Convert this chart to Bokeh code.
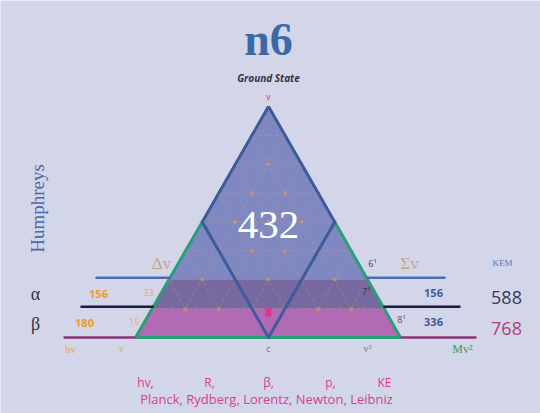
import math
from bokeh.plotting import figure
from bokeh.models import Range1d
from bokeh.core.properties import value
from bokeh.embed import file_html
from bokeh.resources import INLINE

# ---------------- data ----------------
title = "n6"
subtitle = "Ground State"
core_value = 432
levels = ["α", "β"]
left_values = [156, 180]
left_small = [33, 15]
right_values = [156, 336]
kem_values = [588, 768]
right_marks = ["6¹", "7¹", "8¹"]
bottom_symbols = ["hv,", "R,", "β,", "p,", "KE"]
bottom_names = "Planck, Rydberg, Lorentz, Newton, Leibniz"
n_rows = 8  # lattice subdivisions

# ---------------- geometry (picture pixel coordinates) ----------------
BG = "#d3d5e8"
p = figure(width=540, height=413, x_range=Range1d(0, 540), y_range=Range1d(413, 0),
           output_backend="svg", toolbar_location=None, min_border=0,
           background_fill_color=BG, border_fill_color=BG)
p.axis.visible = False
p.grid.visible = False
p.outline_line_color = None

apex = (268, 106)
base_y = 337
base_l, base_r = 135, 400
row_h = (base_y - apex[1]) / n_rows
half_w = (base_r - base_l) / 2


def edge_x(y, side):
    t = (y - apex[1]) / (base_y - apex[1])
    return apex[0] + side * half_w * t

# triangle fill
p.patch([apex[0], base_l, base_r], [apex[1], base_y, base_y],
        fill_color="#8088c2", line_color=None)
# dark band (row 6) and pink band (row 7)
y1, y2, y3 = apex[1] + 6 * row_h, apex[1] + 7 * row_h, base_y
p.patch([edge_x(y1, -1), edge_x(y1, 1), edge_x(y2, 1), edge_x(y2, -1)],
        [y1, y1, y2, y2], fill_color="#77689f", line_color=None)
p.patch([edge_x(y2, -1), edge_x(y2, 1), edge_x(y3, 1), edge_x(y3, -1)],
        [y2, y2, y3, y3], fill_color="#b06bb4", line_color=None)

# orange lattice
lx, ly = [], []
for k in range(1, n_rows):
    y = apex[1] + k * row_h
    lx.append([edge_x(y, -1), edge_x(y, 1)]); ly.append([y, y])
for k in range(1, n_rows):
    bx = base_l + k * (2 * half_w / n_rows)
    yy = base_y - (n_rows - k) * row_h
    lx.append([bx, edge_x(yy, 1)]); ly.append([base_y, yy])
    bx2 = base_r - k * (2 * half_w / n_rows)
    lx.append([bx2, edge_x(yy, -1)]); ly.append([base_y, yy])
p.multi_line(lx, ly, line_color="#e8a050", line_alpha=0.3, line_width=1.1,
             line_dash="3 3")
dx, dy = [], []
for r in range(1, n_rows):
    y = apex[1] + r * row_h
    for j in range(r + 1):
        dx.append(edge_x(y, -1) + j * (2 * half_w / n_rows))
        dy.append(y)
p.scatter(dx, dy, size=4, fill_color="#e8a050", fill_alpha=0.45, line_color=None)

# diamond and green edges
mid_y = apex[1] + 4 * row_h
dl, dr = edge_x(mid_y, -1), edge_x(mid_y, 1)
p.line([dl, base_l, base_r, dr], [mid_y, base_y, base_y, mid_y],
       line_color="#2a9e78", line_width=3)
p.line([apex[0], dl, apex[0], dr, apex[0]], [apex[1], mid_y, base_y, mid_y, apex[1]],
       line_color="#3c5b9c", line_width=3, line_join="round")

# horizontal level lines
ya, yb = apex[1] + 6 * row_h - 2, apex[1] + 7 * row_h - 2
p.segment(x0=[95, edge_x(ya, 1)], y0=[ya, ya], x1=[edge_x(ya, -1), 445], y1=[ya, ya],
          line_color="#4d6cb0", line_width=2.5)
p.segment(x0=[80, edge_x(yb, 1)], y0=[yb, yb], x1=[edge_x(yb, -1), 460], y1=[yb, yb],
          line_color="#1c1c44", line_width=2.5)
p.segment(x0=[63, base_r], y0=[base_y, base_y], x1=[base_l, 476], y1=[base_y, base_y],
          line_color="#8a3478", line_width=2.5)

# magenta marker
p.rect([268], [312], width=6, height=8, fill_color="#e2308c", line_color=None)


def txt(x, y, s, size, color, font="Open Sans", style="normal", align="center", angle=0.0):
    p.text([x], [y], text=[s], text_font=value(font), text_font_size=value(size),
           text_color=color, text_font_style=style, text_align=align,
           text_baseline="middle", angle=angle)

# titles
txt(268, 39, title, "46px", "#3c68a6", font="Liberation Serif", style="bold")
txt(268, 77, subtitle, "10px", "#333344", style="bold italic")
txt(268, 96, "v", "9px", "#d8407f")
txt(268, 224, str(core_value), "41px", "#ffffff", font="Liberation Serif")
txt(268, 348, "c", "9px", "#d8407f")

# left side
txt(37, 208, "Humphreys", "19px", "#4a68b0", font="Liberation Serif", angle=math.pi / 2)
txt(35, 293, levels[0], "18px", "#333340", font="Liberation Serif")
txt(35, 323, levels[1], "18px", "#333340", font="Liberation Serif")
txt(161, 263, "Δv", "17px", "#c8a882", font="Liberation Serif")
txt(98, 293, str(left_values[0]), "11px", "#f09a28", style="bold")
txt(84, 322, str(left_values[1]), "11px", "#f09a28", style="bold")
txt(148, 292, str(left_small[0]), "9px", "#e8a868")
txt(134, 321, str(left_small[1]), "9px", "#e8a868")
txt(70, 348, "hv", "11px", "#e8a868", font="Liberation Serif")
txt(121, 348, "v", "10px", "#e8a868", font="Liberation Serif")

# right side
txt(372, 263, right_marks[0], "9px", "#444450")
txt(366, 291, right_marks[1], "9px", "#333340")
txt(401, 319, right_marks[2], "9px", "#6a4a70")
txt(409, 263, "Σv", "17px", "#c8a882", font="Liberation Serif")
txt(433, 292, str(right_values[0]), "11px", "#3d5ca0", style="bold")
txt(433, 321, str(right_values[1]), "11px", "#3d5ca0", style="bold")
txt(367, 348, "v²", "10px", "#8a6aa0", font="Liberation Serif")
txt(462, 348, "Mv²", "12px", "#3a9a60", font="Liberation Serif")
txt(502, 262, "KEM", "9px", "#5a7ac0", font="Liberation Serif")
txt(506, 297, str(kem_values[0]), "18px", "#3a3a58")
txt(506, 328, str(kem_values[1]), "18px", "#b0407c")

# bottom credits
for xs, s in zip([145, 209, 268, 330, 384], bottom_symbols):
    txt(xs, 382, s, "12px", "#d8408f")
txt(266, 398, bottom_names, "13px", "#d8408f")

open("out.html", "w").write(file_html(p, INLINE))
